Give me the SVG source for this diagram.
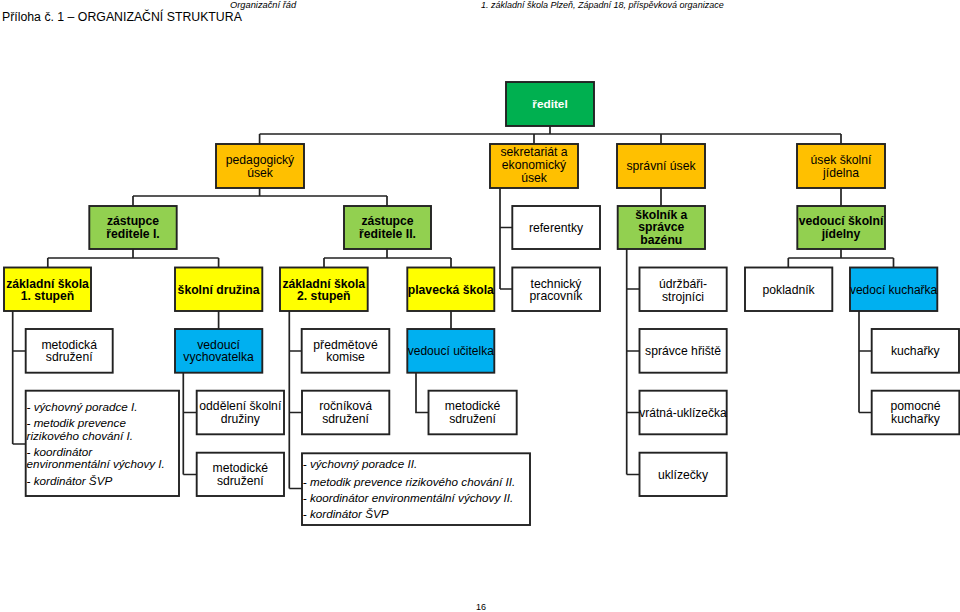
<svg xmlns="http://www.w3.org/2000/svg" width="960" height="612" viewBox="0 0 960 612">
<style>
.bx{stroke:#222222;stroke-width:1.9}
.g1{fill:#00B050}.g2{fill:#92D050}.or{fill:#FFC000}.ye{fill:#FFFF00}.bl{fill:#00B0F0}.wh{fill:#FFFFFF}
text{font-family:"Liberation Sans",Arial,Helvetica,sans-serif;fill:#000}
.t{font-size:12.2px;text-anchor:middle}
.b{font-weight:bold}
.w{fill:#FFFFFF}
.i{font-size:11.7px;font-style:italic}
.hd{font-style:italic;font-size:9.3px}
#conn path{fill:none;stroke:#222222;stroke-width:1.7}
</style>
<rect x="0" y="0" width="960" height="612" fill="#FFFFFF"/>
<g id="header">
<text x="2" y="21" style="font-size:12.3px">Příloha č. 1 – ORGANIZAČNÍ STRUKTURA</text>
<text x="230" y="8" class="hd">Organizační řád</text>
<text x="481" y="8" class="hd" style="font-size:9px">1. základní škola Plzeň, Západní 18, příspěvková organizace</text>
<text x="481" y="610" style="font-size:9px;text-anchor:middle">16</text>
</g>
<g id="conn">
<path d="M550 126V134M259.6 134H841M259.6 134V144M534 134V144M661 134V144M841 134V144"/>
<path d="M259.6 188V196M133 196H387M133 196V206M387 196V206"/>
<path d="M500 188V289M500 227.5H512M500 289H512"/>
<path d="M661 188V206M841 188V206"/>
<path d="M133 249V258M47.8 258H218.6M47.8 258V268M218.6 258V268"/>
<path d="M387 249V258M324 258H451M324 258V268M451 258V268"/>
<path d="M841 249V258M788.3 258H893.5M788.3 258V268M893.5 258V268"/>
<path d="M12.7 311V444M12.7 351H25.7M12.7 444H25.7"/>
<path d="M218.6 311V329M451 311V329"/>
<path d="M183.3 373V474.5M183.3 412.5H196.7M183.3 474.5H196.7"/>
<path d="M289.3 311V488.5M289.3 351H302M289.3 412.5H302M289.3 488.5H302"/>
<path d="M416 373V412.5H428.5"/>
<path d="M626.7 249V474.5M626.7 289H639.5M626.7 351H639.5M626.7 412.5H639.5M626.7 474.5H639.5"/>
<path d="M859 311V412.5M859 351H872M859 412.5H872"/>
</g>
<g id="reditel"><rect class="bx g1" x="506" y="82" width="88" height="44"/><text class="t b w" x="550" y="108" style="font-size:11.8px">ředitel</text></g>
<g id="pedagogicky"><rect class="bx or" x="216" y="144" width="88" height="44"/><text class="t" x="260" y="163.5">pedagogický</text><text class="t" x="260" y="176.5">úsek</text></g>
<g id="sekretariat"><rect class="bx or" x="490" y="144" width="88" height="44"/><text class="t" x="534" y="156">sekretariát a</text><text class="t" x="534" y="169">ekonomický</text><text class="t" x="534" y="182">úsek</text></g>
<g id="spravni"><rect class="bx or" x="617" y="144" width="88" height="44"/><text class="t" x="661" y="170">správní úsek</text></g>
<g id="usek-jidelna"><rect class="bx or" x="797" y="144" width="88" height="44"/><text class="t" x="841" y="163.5">úsek školní</text><text class="t" x="841" y="176.5">jídelna</text></g>
<g id="zastupce1"><rect class="bx g2" x="89.3" y="206" width="87.4" height="43"/><text class="t b" x="133" y="225">zástupce</text><text class="t b" x="133" y="238">ředitele I.</text></g>
<g id="zastupce2"><rect class="bx g2" x="344" y="206" width="87" height="43"/><text class="t b" x="387.5" y="225">zástupce</text><text class="t b" x="387.5" y="238">ředitele II.</text></g>
<g id="referentky"><rect class="bx wh" x="512.3" y="206" width="87.7" height="43"/><text class="t" x="556" y="231.5">referentky</text></g>
<g id="skolnik"><rect class="bx g2" x="617.7" y="206" width="87.3" height="43"/><text class="t b" x="661.3" y="219">školník a</text><text class="t b" x="661.3" y="231.3">správce</text><text class="t b" x="661.3" y="243.5">bazénu</text></g>
<g id="vedouci-jidelny"><rect class="bx g2" x="797.3" y="206" width="87.7" height="43"/><text class="t b" x="841" y="225">vedoucí školní</text><text class="t b" x="841" y="238">jídelny</text></g>
<g id="zs1"><rect class="bx ye" x="4" y="267.5" width="87" height="43.5"/><text class="t b" x="47.5" y="287.5">základní škola</text><text class="t b" x="47.5" y="300">1. stupeň</text></g>
<g id="druzina"><rect class="bx ye" x="175" y="267.5" width="87.3" height="43.5"/><text class="t b" x="218.6" y="293.5">školní družina</text></g>
<g id="zs2"><rect class="bx ye" x="280" y="267.5" width="87.7" height="43.5"/><text class="t b" x="323.8" y="287.5">základní škola</text><text class="t b" x="323.8" y="300">2. stupeň</text></g>
<g id="plavecka"><rect class="bx ye" x="407.3" y="267.5" width="87" height="43.5"/><text class="t b" x="450.8" y="293.5">plavecká škola</text></g>
<g id="technicky"><rect class="bx wh" x="512.3" y="267.5" width="87.7" height="43.5"/><text class="t" x="556" y="287.5">technický</text><text class="t" x="556" y="300">pracovník</text></g>
<g id="udrzbari"><rect class="bx wh" x="639.5" y="267.5" width="87.2" height="43.5"/><text class="t" x="683" y="287.5">údržbáři-</text><text class="t" x="683" y="300.5">strojníci</text></g>
<g id="pokladnik"><rect class="bx wh" x="745" y="267.5" width="87.3" height="43.5"/><text class="t" x="788.6" y="293.5">pokladník</text></g>
<g id="kucharka"><rect class="bx bl" x="850" y="267.5" width="87.3" height="43.5"/><text class="t" x="893.6" y="293.5" style="font-size:12px">vedocí kuchařka</text></g>
<g id="metodicka"><rect class="bx wh" x="25.7" y="329" width="87" height="43.7"/><text class="t" x="69.2" y="348.5">metodická</text><text class="t" x="69.2" y="361">sdružení</text></g>
<g id="vychovatelka"><rect class="bx bl" x="175" y="329" width="87.3" height="43.7"/><text class="t" x="218.6" y="348.5">vedoucí</text><text class="t" x="218.6" y="361">vychovatelka</text></g>
<g id="predmetove"><rect class="bx wh" x="301.7" y="329" width="87.6" height="43.7"/><text class="t" x="345.5" y="348.5">předmětové</text><text class="t" x="345.5" y="361">komise</text></g>
<g id="ucitelka"><rect class="bx bl" x="407.3" y="329" width="87" height="43.7"/><text class="t" x="450.8" y="355" style="font-size:12px">vedoucí učitelka</text></g>
<g id="hriste"><rect class="bx wh" x="639.5" y="329" width="87.2" height="43.7"/><text class="t" x="683" y="355">správce hřiště</text></g>
<g id="kucharky"><rect class="bx wh" x="871.7" y="329" width="87.3" height="43.7"/><text class="t" x="915.3" y="355">kuchařky</text></g>
<g id="poradce1"><rect class="bx wh" x="25.7" y="390.7" width="153.3" height="105.3"/>
<text class="i" x="26.5" y="410.5">- výchovný poradce I.</text>
<text class="i" x="26.5" y="427">- metodik prevence</text>
<text class="i" x="26.5" y="439.7">rizikového chování I.</text>
<text class="i" x="26.5" y="455.7">- koordinátor</text>
<text class="i" x="26.5" y="468">environmentální výchovy I.</text>
<text class="i" x="26.5" y="485">- kordinátor ŠVP</text></g>
<g id="oddeleni"><rect class="bx wh" x="196.7" y="390.7" width="87.3" height="43.6"/><text class="t" x="240.3" y="410">oddělení školní</text><text class="t" x="240.3" y="422.5">družiny</text></g>
<g id="rocnikova"><rect class="bx wh" x="302" y="390.7" width="87.3" height="43.6"/><text class="t" x="345.6" y="410">ročníková</text><text class="t" x="345.6" y="422.5">sdružení</text></g>
<g id="metodicke2"><rect class="bx wh" x="428.5" y="390.7" width="88.2" height="43.6"/><text class="t" x="472.6" y="410">metodické</text><text class="t" x="472.6" y="422.5">sdružení</text></g>
<g id="vratna"><rect class="bx wh" x="639.5" y="390.7" width="87.2" height="43.6"/><text class="t" x="683" y="416.5" style="font-size:12px">vrátná-uklízečka</text></g>
<g id="pomocne"><rect class="bx wh" x="871.7" y="390.7" width="87.6" height="43.6"/><text class="t" x="915.5" y="410">pomocné</text><text class="t" x="915.5" y="422.5">kuchařky</text></g>
<g id="metodicke1"><rect class="bx wh" x="196.7" y="452.7" width="87.3" height="43.3"/><text class="t" x="240.3" y="472">metodické</text><text class="t" x="240.3" y="484.5">sdružení</text></g>
<g id="poradce2"><rect class="bx wh" x="302" y="453.3" width="228" height="71.7"/>
<text class="i" x="302.8" y="468.3">- výchovný poradce II.</text>
<text class="i" x="302.8" y="485.5">- metodik prevence rizikového chování II.</text>
<text class="i" x="302.8" y="502">- koordinátor environmentální výchovy II.</text>
<text class="i" x="302.8" y="517.5">- kordinátor ŠVP</text></g>
<g id="uklizecky"><rect class="bx wh" x="639.5" y="452.7" width="87.2" height="43.3"/><text class="t" x="683" y="478.5">uklízečky</text></g>
</svg>
